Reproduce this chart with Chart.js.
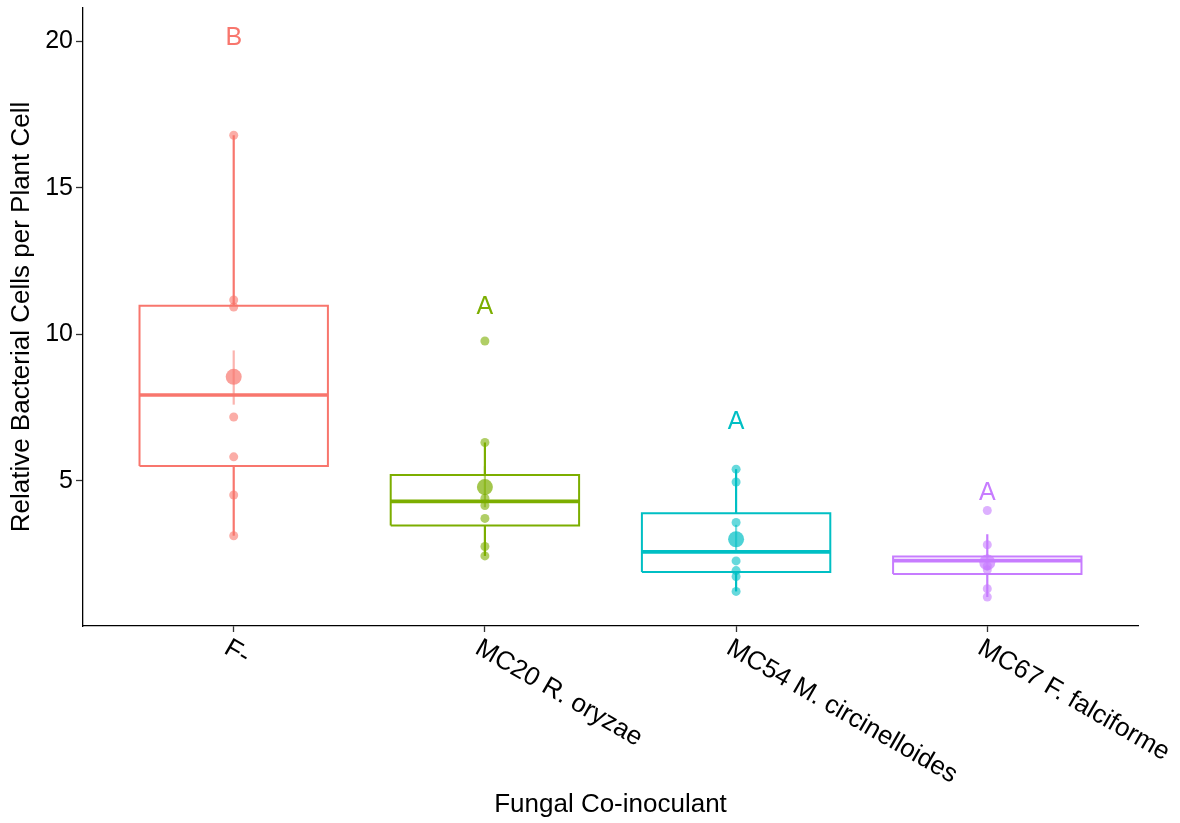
<!DOCTYPE html>
<html>
<head>
<meta charset="utf-8">
<script src="https://cdn.jsdelivr.net/npm/chart.js@4.4.0/dist/chart.umd.min.js"></script>
<style>
	html, body { margin: 0; padding: 0; background: #fff; }
	#wrap { width: 1180px; height: 823px; }
</style>
</head>
<body>
<div id="wrap"><canvas id="boxChart" width="1180" height="823"></canvas></div>
<script>
// values
const categories = ['F-', 'MC20 R. oryzae', 'MC54 M. circinelloides', 'MC67 F. falciforme'];
const colors = ['#F8766D', '#7CAE00', '#00BFC4', '#C77CFF'];
const q1 = [5.51, 3.48, 1.89, 1.82];
const medians = [7.93, 4.30, 2.58, 2.28];
const q3 = [10.97, 5.20, 3.90, 2.42];
const whiskerLow = [3.13, 2.44, 1.23, 1.04];
const whiskerHigh = [16.79, 6.31, 5.40, 3.18];
const means = [8.55, 4.79, 3.01, 2.22];
const meanLow = [7.60, 4.10, 2.55, 1.95];
const meanHigh = [9.45, 5.50, 3.50, 2.50];
const obsF = [16.79, 11.17, 10.93, 7.18, 5.82, 4.52, 3.13];
const obsMC20 = [9.77, 6.31, 4.41, 4.16, 3.72, 2.76, 2.44];
const obsMC54 = [5.40, 4.96, 3.58, 2.27, 1.94, 1.74, 1.23];
const obsMC67 = [3.99, 2.82, 2.10, 1.97, 1.32, 1.04];
const observations = [obsF, obsMC20, obsMC54, obsMC67];
const letters = ['B', 'A', 'A', 'A'];
const letterY = [20.1, 10.93, 6.99, 4.58];
const yTicks = [5, 10, 15, 20];

const FONT = "'Liberation Sans', Arial, sans-serif";
const halfWidth = 0.375;

function alpha(hex, a) {
	let r = parseInt(hex.slice(1, 3), 16);
	let g = parseInt(hex.slice(3, 5), 16);
	let b = parseInt(hex.slice(5, 7), 16);
	return `rgba(${r}, ${g}, ${b}, ${a})`;
}

function lineSet(points, color, width, order) {
	return {
		type: 'scatter',
		data: points,
		showLine: true,
		borderColor: color,
		borderWidth: width,
		pointRadius: 0,
		pointHoverRadius: 0,
		fill: false,
		order: order
	};
}

const datasets = [];
categories.forEach((cat, i) => {
	let c = colors[i];
	// box outline
	datasets.push(lineSet([
		{x: i - halfWidth, y: q1[i]},
		{x: i + halfWidth, y: q1[i]},
		{x: i + halfWidth, y: q3[i]},
		{x: i - halfWidth, y: q3[i]},
		{x: i - halfWidth, y: q1[i]}
	], c, 2, 5));
	// median
	datasets.push(lineSet([
		{x: i - halfWidth, y: medians[i]},
		{x: i + halfWidth, y: medians[i]}
	], c, 3.6, 4));
	// whiskers
	datasets.push(lineSet([{x: i, y: whiskerLow[i]}, {x: i, y: q1[i]}], c, 2.2, 4));
	datasets.push(lineSet([{x: i, y: q3[i]}, {x: i, y: whiskerHigh[i]}], c, 2.2, 4));
	// mean error bar
	datasets.push(lineSet([{x: i, y: meanLow[i]}, {x: i, y: meanHigh[i]}], alpha(c, 0.55), 2.2, 3));
	// observations
	datasets.push({
		type: 'scatter',
		data: observations[i].map((v) => ({x: i, y: v})),
		backgroundColor: alpha(c, 0.6),
		borderWidth: 0,
		pointRadius: 4.5,
		pointHoverRadius: 4.5,
		order: 2
	});
	// mean
	datasets.push({
		type: 'scatter',
		data: [{x: i, y: means[i]}],
		backgroundColor: alpha(c, 0.7),
		borderWidth: 0,
		pointRadius: 8,
		pointHoverRadius: 8,
		order: 1
	});
});

const textPlugin = {
	id: 'textPlugin',
	afterDraw(chart) {
		const ctx = chart.ctx;
		const xs = chart.scales.x;
		const ys = chart.scales.y;
		const area = chart.chartArea;
		ctx.save();

		// group letters
		ctx.font = `25px ${FONT}`;
		ctx.textAlign = 'center';
		ctx.textBaseline = 'middle';
		letters.forEach((l, i) => {
			ctx.fillStyle = colors[i];
			ctx.fillText(l, xs.getPixelForValue(i), ys.getPixelForValue(letterY[i]));
		});

		// rotated category labels
		ctx.fillStyle = '#000';
		ctx.font = `26px ${FONT}`;
		ctx.textAlign = 'left';
		ctx.textBaseline = 'top';
		categories.forEach((cat, i) => {
			ctx.save();
			ctx.translate(xs.getPixelForValue(i) - 1, area.bottom + 9);
			ctx.rotate(30 * Math.PI / 180);
			ctx.fillText(cat, 0, 0);
			ctx.restore();
		});

		// axis titles
		ctx.font = `26px ${FONT}`;
		ctx.textAlign = 'center';
		ctx.textBaseline = 'middle';
		ctx.fillText('Fungal Co-inoculant', (area.left + area.right) / 2, 805);
		ctx.save();
		ctx.translate(22, (area.top + area.bottom) / 2);
		ctx.rotate(-Math.PI / 2);
		ctx.fillText('Relative Bacterial Cells per Plant Cell', 0, 0);
		ctx.restore();

		ctx.restore();
	}
};

function renderBoxChart() {
	const ctx = document.getElementById('boxChart');
	const config = {
		type: 'scatter',
		data: { datasets: datasets },
		options: {
			responsive: false,
			animation: false,
			devicePixelRatio: 1,
			layout: { padding: { top: 8, right: 42, left: 0, bottom: 0 } },
			plugins: {
				legend: { display: false },
				tooltip: { enabled: false }
			},
			scales: {
				x: {
					type: 'linear',
					min: -0.6,
					max: 3.6,
					afterBuildTicks: (scale) => {
						scale.ticks = categories.map((c, i) => ({value: i}));
					},
					afterFit: (scale) => {
						scale.height = 197;
						scale.paddingLeft = 0;
						scale.paddingRight = 0;
					},
					grid: {
						drawOnChartArea: false,
						color: '#333',
						tickLength: 6,
						tickWidth: 1.3
					},
					border: { color: '#000', width: 1.3 },
					ticks: { display: false }
				},
				y: {
					type: 'linear',
					min: 0.05,
					max: 21.13,
					afterBuildTicks: (scale) => {
						scale.ticks = yTicks.map((v) => ({value: v}));
					},
					afterFit: (scale) => {
						scale.width = 83;
						scale.paddingTop = 0;
						scale.paddingBottom = 0;
					},
					grid: {
						drawOnChartArea: false,
						color: '#333',
						tickLength: 7,
						tickWidth: 1.3
					},
					border: { color: '#000', width: 1.3 },
					ticks: {
						color: '#000',
						padding: 3,
						font: { family: FONT, size: 25 },
						callback: (v) => v
					}
				}
			}
		},
		plugins: [textPlugin]
	};
	return new Chart(ctx, config);
}

renderBoxChart();
</script>
</body>
</html>
